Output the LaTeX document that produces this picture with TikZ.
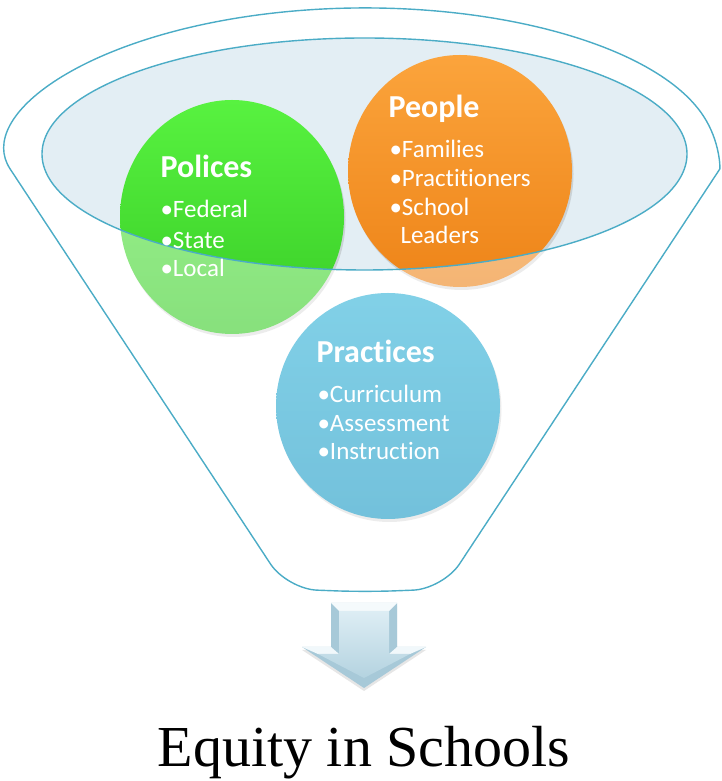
\documentclass[tikz,border=0pt]{standalone}
\usepackage{fontspec}
\setmainfont[Ligatures=NoCommon]{Carlito}
\newfontfamily\resultfont{Liberation Serif}
\usetikzlibrary{shapes.geometric,shadows}

\definecolor{rimblue}{HTML}{4BACC6}
\definecolor{mouthblue}{HTML}{E3EEF4}
\definecolor{greentop}{HTML}{58F240}
\definecolor{greenbot}{HTML}{38CC26}
\definecolor{orangetop}{HTML}{FBA43C}
\definecolor{orangebot}{HTML}{EE8418}
\definecolor{bluetop}{HTML}{2EB2D8}
\definecolor{bluebot}{HTML}{1698C4}
\definecolor{arrowedge}{HTML}{A7C9D8}
\definecolor{arrowtop}{HTML}{DDEDF4}
\definecolor{arrowbot}{HTML}{B4D3E0}

\begin{document}
\begin{tikzpicture}[x=1pt,y=1pt,
  bubble/.style={ellipse,inner sep=0pt,minimum width=224pt,
    drop shadow={opacity=0.25,shadow xshift=1.5pt,shadow yshift=-3pt}},
  heading/.style={anchor=base west,text=white,font=\fontsize{32}{36}\selectfont\bfseries},
  entry/.style={anchor=base west,text=white,font=\fontsize{25}{29}\selectfont},
  rim/.style={draw=rimblue,line width=1.4pt}]
\useasboundingbox (0,0) rectangle (722,781);

\fill[mouthblue] (364.5,627) ellipse [x radius=322.5,y radius=116];

\node[bubble,minimum height=234pt,top color=greentop,bottom color=greenbot] (polices) at (232,564) {};
\node[bubble,minimum height=232pt,top color=orangetop,bottom color=orangebot] (people) at (460,610) {};
\node[bubble,minimum height=226pt,top color=bluetop,bottom color=bluebot] (practices) at (388,375) {};

% body of the funnel, lighter than its mouth
\fill[white,opacity=0.4,even odd rule,rounded corners=30pt]
  (26.6,587) arc[start angle=195.4,end angle=-15.4,x radius=351,y radius=147]
  -- (443,192) -- (365,189) -- (287,192) -- cycle
  (364.5,627) ellipse [x radius=322.5,y radius=116];
\draw[rim,rounded corners=30pt]
  (26.6,587) arc[start angle=195.4,end angle=-15.4,x radius=351,y radius=147]
  -- (443,192) -- (365,189) -- (287,192) -- cycle;
\draw[rim] (364.5,627) ellipse [x radius=322.5,y radius=116];

\node[heading] (poltitle) at (157,603) {Polices};
\node[entry] (pol1) at (157,563) {•Federal};
\node[entry] (pol2) at (157,532) {•State};
\node[entry] (pol3) at (157,504) {•Local};

\node[heading] (peotitle) at (385,663) {People};
\node[entry] (peo1) at (386,623) {•Families};
\node[entry] (peo2) at (386,594) {•Practitioners};
\node[entry] (peo3) at (386,565) {•School};
\node[entry] (peo4) at (397,537) {Leaders};

\node[heading] (pratitle) at (313,418) {Practices};
\node[entry] (pra1) at (314,378) {•Curriculum};
\node[entry] (pra2) at (314,349) {•Assessment};
\node[entry] (pra3) at (314,321) {•Instruction};

% arrow with a bevelled face
\fill[arrowedge,drop shadow={opacity=0.2,shadow xshift=0pt,shadow yshift=-3pt}]
  (331,178) -- (397,178) -- (397,134) -- (426,134) -- (364,93) -- (302,134) -- (331,134) -- cycle;
\fill[white!70!arrowtop] (331,178) -- (397,178) -- (389,170) -- (339,170) -- cycle;
\fill[white!60!arrowtop] (302,134) -- (331,134) -- (339,127) -- (318,127) -- cycle;
\fill[white!60!arrowtop] (426,134) -- (397,134) -- (389,127) -- (410,127) -- cycle;
\shade[top color=arrowtop,bottom color=arrowbot]
  (339,170) -- (389,170) -- (389,127) -- (410,127) -- (364,103) -- (318,127) -- (339,127) -- cycle;

\node[anchor=base,font=\resultfont\fontsize{58}{62}\selectfont] (equity) at (364,14) {Equity in Schools};
\end{tikzpicture}
\end{document}
